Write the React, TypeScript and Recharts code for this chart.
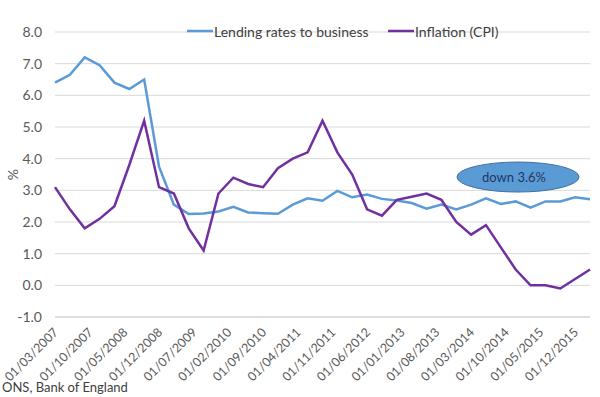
import React from 'react';
import {
  LineChart,
  Line,
  XAxis,
  YAxis,
  CartesianGrid,
  Legend,
  ReferenceDot,
} from 'recharts';

// Quarterly observation dates (dd/mm/yyyy)
const dates = [
  '01/03/2007', '01/06/2007', '01/09/2007', '01/12/2007',
  '01/03/2008', '01/06/2008', '01/09/2008', '01/12/2008',
  '01/03/2009', '01/06/2009', '01/09/2009', '01/12/2009',
  '01/03/2010', '01/06/2010', '01/09/2010', '01/12/2010',
  '01/03/2011', '01/06/2011', '01/09/2011', '01/12/2011',
  '01/03/2012', '01/06/2012', '01/09/2012', '01/12/2012',
  '01/03/2013', '01/06/2013', '01/09/2013', '01/12/2013',
  '01/03/2014', '01/06/2014', '01/09/2014', '01/12/2014',
  '01/03/2015', '01/06/2015', '01/09/2015', '01/12/2015',
  '01/03/2016',
];

const lendingRates = [
  6.4, 6.65, 7.2, 6.95, 6.4, 6.2, 6.5, 3.75, 2.55, 2.25, 2.27, 2.33, 2.48,
  2.3, 2.28, 2.26, 2.55, 2.75, 2.67, 2.98, 2.78, 2.87, 2.73, 2.68, 2.6,
  2.42, 2.55, 2.4, 2.55, 2.75, 2.57, 2.65, 2.45, 2.65, 2.65, 2.78, 2.72,
];

const inflation = [
  3.1, 2.4, 1.8, 2.1, 2.5, 3.8, 5.2, 3.1, 2.9, 1.8, 1.1, 2.9, 3.4, 3.2,
  3.1, 3.7, 4.0, 4.2, 5.2, 4.2, 3.5, 2.4, 2.2, 2.7, 2.8, 2.9, 2.7, 2.0,
  1.6, 1.9, 1.2, 0.5, 0.0, 0.0, -0.1, 0.2, 0.5,
];

const xTickLabels = [
  '01/03/2007', '01/10/2007', '01/05/2008', '01/12/2008', '01/07/2009',
  '01/02/2010', '01/09/2010', '01/04/2011', '01/11/2011', '01/06/2012',
  '01/01/2013', '01/08/2013', '01/03/2014', '01/10/2014', '01/05/2015',
  '01/12/2015',
];

const yTicks = [-1, 0, 1, 2, 3, 4, 5, 6, 7, 8];

const annotation = { date: '15/12/2014', value: 3.42, text: 'down 3.6%' };

const FONT = 'Lato, "Open Sans", sans-serif';
const BLUE = '#5B9BD5';
const PURPLE = '#7030A0';

const toMonth = (d: string) => {
  const [dd, mm, yyyy] = d.split('/').map(Number);
  return (yyyy - 2007) * 12 + (mm - 3) + (dd - 1) / 30;
};

const data = dates.map((d, i) => ({
  m: toMonth(d),
  date: d,
  lending: lendingRates[i],
  cpi: inflation[i],
}));

const tickPositions = xTickLabels.map(toMonth);
const tickLabelByPos: Record<string, string> = {};
xTickLabels.forEach((l) => {
  tickLabelByPos[String(toMonth(l))] = l;
});

const XTick = (props: any) => {
  const { x, y, payload } = props;
  const label = tickLabelByPos[String(payload.value)] ?? '';
  return (
    <text
      x={x + 4}
      y={y + 8}
      transform={`rotate(-45, ${x + 4}, ${y + 8})`}
      textAnchor="end"
      fontFamily={FONT}
      fontSize={12.5}
      fill="#595959"
    >
      {label}
    </text>
  );
};

const LegendContent = () => {
  const items = [
    { label: 'Lending rates to business', color: BLUE, x: 187 },
    { label: 'Inflation (CPI)', color: PURPLE, x: 388 },
  ];
  return (
    <svg width={600} height={20} style={{ display: 'block' }}>
      {items.map((it) => (
        <g key={it.label}>
          <line x1={it.x} x2={it.x + 26} y1={10} y2={10} stroke={it.color} strokeWidth={2.5} />
          <text
            x={it.x + 27}
            y={10}
            dominantBaseline="central"
            fontFamily={FONT}
            fontSize={14}
            fill="#404040"
          >
            {it.label}
          </text>
        </g>
      ))}
    </svg>
  );
};

const EllipseShape = (props: any) => {
  const { cx, cy } = props;
  return (
    <g>
      <ellipse cx={cx} cy={cy} rx={61} ry={15} fill="#5B9BD5" stroke="#41719C" strokeWidth={1} />
      <text
        x={cx - 4}
        y={cy}
        textAnchor="middle"
        dominantBaseline="central"
        fontFamily={FONT}
        fontSize={13}
        fill="#1F3864"
      >
        {annotation.text}
      </text>
    </g>
  );
};

export default function App() {
  return (
    <div style={{ position: 'absolute', left: 0, top: 0, width: 600, height: 397, background: '#fff' }}>
      <LineChart
        width={600}
        height={397}
        data={data}
        margin={{ top: 12, right: 10, bottom: 0, left: 0 }}
      >
        <CartesianGrid horizontal vertical={false} stroke="#D9D9D9" strokeWidth={1} />
        <XAxis
          dataKey="m"
          type="number"
          domain={[0, 108]}
          ticks={tickPositions}
          interval={0}
          tick={<XTick />}
          tickLine={false}
          axisLine={{ stroke: '#D0D0D0', strokeWidth: 1 }}
          height={80}
        />
        <YAxis
          type="number"
          domain={[-1, 8]}
          ticks={yTicks}
          interval={0}
          width={55}
          axisLine={false}
          tickLine={false}
          tickSize={0}
          tickMargin={13}
          tickFormatter={(v: number) => v.toFixed(1)}
          tick={{ fontFamily: FONT, fontSize: 14, fill: '#595959' }}
          label={{
            value: '%',
            angle: -90,
            position: 'insideLeft',
            offset: 13,
            style: { fontFamily: FONT, fontSize: 14, fill: '#595959', textAnchor: 'middle' },
          }}
        />
        <Legend
          verticalAlign="top"
          content={<LegendContent />}
          wrapperStyle={{ position: 'absolute', top: 21, left: 0, width: 600 }}
        />
        <Line
          type="linear"
          dataKey="lending"
          name="Lending rates to business"
          stroke={BLUE}
          strokeWidth={2.5}
          dot={false}
          isAnimationActive={false}
        />
        <Line
          type="linear"
          dataKey="cpi"
          name="Inflation (CPI)"
          stroke={PURPLE}
          strokeWidth={2.5}
          dot={false}
          isAnimationActive={false}
        />
        <ReferenceDot
          x={toMonth(annotation.date)}
          y={annotation.value}
          shape={<EllipseShape />}
          ifOverflow="visible"
        />
      </LineChart>
      <div
        style={{
          position: 'absolute',
          left: 2,
          top: 379,
          fontFamily: FONT,
          fontSize: 13,
          color: '#404040',
          whiteSpace: 'nowrap',
        }}
      >
        ONS, Bank of England
      </div>
    </div>
  );
}
